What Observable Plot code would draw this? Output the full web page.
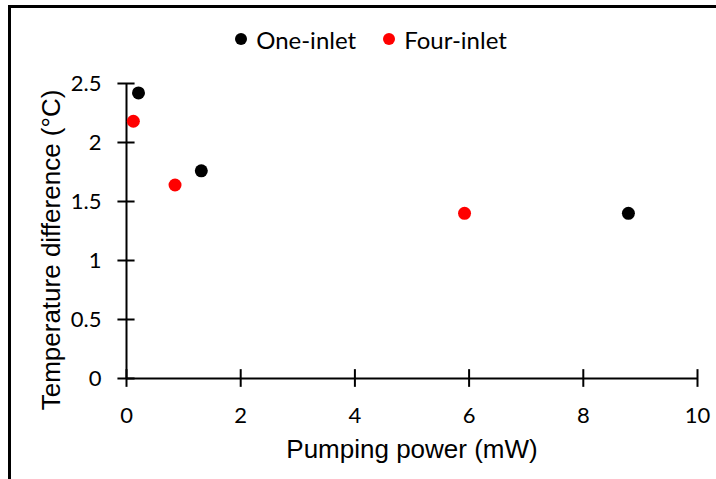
<!DOCTYPE html>
<html>
<head>
<meta charset="utf-8">
<script src="https://cdn.jsdelivr.net/npm/d3@7"></script>
<script src="https://cdn.jsdelivr.net/npm/@observablehq/plot@0.6"></script>
<style>
  html, body { margin: 0; padding: 0; background: #fff; }
  #wrap { position: relative; width: 716px; height: 479px; overflow: hidden; background: #fff; }
  #frame { position: absolute; left: 8px; top: 5px; width: 800px; height: 600px;
           border-left: 3px solid #000; border-top: 3px solid #000; pointer-events: none; }
  #legend { position: absolute; left: 13px; top: 22px; width: 716px; height: 34px;
            display: flex; justify-content: center; align-items: center;
            font-family: Lato, "Open Sans", sans-serif; font-size: 24px; color: #000; }
  .item { display: flex; align-items: center; }
  .item + .item { margin-left: 27px; }
  .dot { width: 12px; height: 12px; border-radius: 50%; margin-right: 9px; }
  #chart { position: absolute; left: 0; top: 60px; }
</style>
</head>
<body>
<div id="wrap">
  <div id="legend"></div>
  <div id="chart"></div>
  <div id="frame"></div>
</div>
<script>
// Series names and colours
const seriesNames = ["One-inlet", "Four-inlet"];
const seriesColors = ["#000000", "#ff0000"];

// One-inlet data (pumping power mW, temperature difference °C)
const oneInletPower = [0.21, 1.31, 8.79];
const oneInletTemp  = [2.42, 1.76, 1.40];

// Four-inlet data
const fourInletPower = [0.12, 0.85, 5.92];
const fourInletTemp  = [2.18, 1.64, 1.40];

// Tick values
const xTicks = [0, 2, 4, 6, 8, 10];
const yTicks = [0, 0.5, 1, 1.5, 2, 2.5];
const yTickLabels = ["0", "0.5", "1", "1.5", "2", "2.5"];

const xLabel = "Pumping power (mW)";
const yLabel = "Temperature difference (°C)";

const data = [
  ...oneInletPower.map((p, i) => ({series: seriesNames[0], power: p, temp: oneInletTemp[i]})),
  ...fourInletPower.map((p, i) => ({series: seriesNames[1], power: p, temp: fourInletTemp[i]}))
];

// Legend
const legend = document.getElementById("legend");
seriesNames.forEach((name, i) => {
  const item = document.createElement("div");
  item.className = "item";
  const dot = document.createElement("span");
  dot.className = "dot";
  dot.style.background = seriesColors[i];
  const label = document.createElement("span");
  label.textContent = name;
  item.appendChild(dot);
  item.appendChild(label);
  legend.appendChild(item);
});

const tickFont = "Lato, 'Open Sans', sans-serif";
const titleFont = "'Liberation Sans', Arial, sans-serif";

const plot = Plot.plot({
  width: 716,
  height: 419,
  marginLeft: 126,
  marginRight: 19,
  marginTop: 23,
  marginBottom: 101,
  style: {background: "transparent", overflow: "visible"},
  x: {domain: [0, 10], axis: null},
  y: {domain: [0, 2.5], axis: null},
  color: {domain: seriesNames, range: seriesColors},
  marks: [
    // axis lines
    Plot.ruleY([0], {stroke: "#000", strokeWidth: 2}),
    Plot.ruleX([0], {stroke: "#000", strokeWidth: 2}),
    // cross tick marks
    Plot.ruleX(xTicks, {x: d => d, y1: -0.075, y2: 0.075, stroke: "#000", strokeWidth: 2}),
    Plot.ruleY(yTicks, {y: d => d, x1: -0.15, x2: 0.15, stroke: "#000", strokeWidth: 2}),
    // tick labels
    Plot.axisX({ticks: xTicks, tickSize: 0, tickPadding: 29, fontSize: 22, fontFamily: tickFont, label: null, tickFormat: d => String(d)}),
    Plot.axisY({ticks: yTicks, tickSize: 0, tickPadding: 25, fontSize: 22, fontFamily: tickFont, label: null, tickFormat: d => yTickLabels[yTicks.indexOf(d)]}),
    // axis titles
    Plot.text([xLabel], {frameAnchor: "bottom", dy: 71, text: d => d, fontSize: 26, fontFamily: titleFont, fill: "#000", lineAnchor: "middle", textAnchor: "middle"}),
    Plot.text([yLabel], {frameAnchor: "left", dx: -75, dy: 19, rotate: -90, text: d => d, fontSize: 26, fontFamily: titleFont, fill: "#000", lineAnchor: "middle", textAnchor: "middle"}),
    // points
    Plot.dot(data, {x: "power", y: "temp", fill: "series", r: 6.5, stroke: null})
  ]
});
document.getElementById("chart").appendChild(plot);
</script>
</body>
</html>
